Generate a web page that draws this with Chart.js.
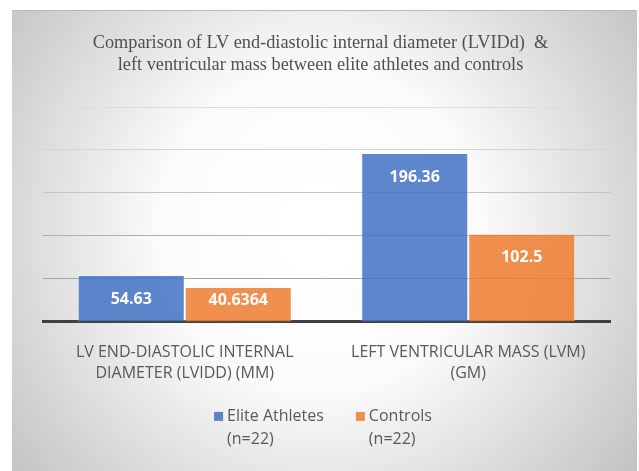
<!DOCTYPE html>
<html>
<head>
<meta charset="utf-8">
<script src="https://cdn.jsdelivr.net/npm/chart.js@4"></script>
<style>
  html, body { margin: 0; padding: 0; background: #ffffff; }
  #wrap { width: 639px; height: 471px; }
</style>
</head>
<body>
<div id="wrap"><canvas id="chart" width="639" height="471"></canvas></div>
<script>
const titleLines = ['Comparison of LV end-diastolic internal diameter (LVIDd)  &', 'left ventricular mass between elite athletes and controls'];
const categories = [
	['LV END-DIASTOLIC INTERNAL', 'DIAMETER (LVIDD) (MM)'],
	['LEFT VENTRICULAR MASS (LVM)', '(GM)']
];
const seriesNames = [['Elite Athletes', '(n=22)'], ['Controls', '(n=22)']];
const athletesValues = [54.63, 196.36];
const controlsValues = [40.6364, 102.5];
const yMax = 250;
const yStep = 50;

const BLUE = 'rgba(68, 114, 196, 0.86)';
const ORANGE = 'rgba(237, 125, 49, 0.86)';
const TEXT = '#595959';
const SANS = '"Open Sans", "Noto Sans", sans-serif';

//Chart frame with the radial shading behind everything
const frameBackground = {
	id: 'frameBackground',
	beforeDraw(chart) {
		const ctx = chart.ctx;
		ctx.save();
		const g = ctx.createRadialGradient(320, 230, 20, 320, 230, 420);
		g.addColorStop(0, '#ffffff');
		g.addColorStop(0.35, '#fbfbfb');
		g.addColorStop(1, '#bdbdbd');
		ctx.fillStyle = g;
		ctx.fillRect(12, 10, 625, 461);
		ctx.fillStyle = '#b9b9b9';
		ctx.fillRect(12, 10, 625, 1);
		ctx.restore();
	}
};

//Title centred on the frame rather than on the plot area
const frameTitle = {
	id: 'frameTitle',
	afterDraw(chart) {
		const ctx = chart.ctx;
		ctx.save();
		ctx.font = '18.3px "Liberation Serif", "Times New Roman", serif';
		ctx.fillStyle = '#505050';
		ctx.textAlign = 'center';
		ctx.textBaseline = 'middle';
		titleLines.forEach(function(t, i) {
			ctx.fillText(t, 320.5, 43 + i * 22);
		});
		ctx.restore();
	}
};

//Value labels inside the top of each bar
const barLabels = {
	id: 'barLabels',
	afterDatasetsDraw(chart) {
		const ctx = chart.ctx;
		ctx.save();
		ctx.font = 'bold 16px ' + SANS;
		ctx.fillStyle = '#ffffff';
		ctx.textAlign = 'center';
		ctx.textBaseline = 'middle';
		chart.data.datasets.forEach(function(ds, i) {
			chart.getDatasetMeta(i).data.forEach(function(bar, j) {
				const y = Math.min(bar.y + 24, bar.base - 21);
				ctx.fillText(String(ds.data[j]), bar.x, y);
			});
		});
		ctx.restore();
	}
};

//Two-line legend under the axis labels
const wrapLegend = {
	id: 'wrapLegend',
	afterDraw(chart) {
		const ctx = chart.ctx;
		const box = 9, gap = 4, spacing = 32, lineH = 23;
		ctx.save();
		ctx.font = '16px ' + SANS;
		const items = chart.data.datasets.map(function(ds) {
			const w = Math.max.apply(null, ds.label.map(t => ctx.measureText(t).width));
			return {ds: ds, w: box + gap + w};
		});
		const total = items.reduce((s, it) => s + it.w, 0) + spacing * (items.length - 1);
		let x = 323 - total / 2;
		const y0 = chart.chartArea.bottom + 95;
		ctx.textBaseline = 'middle';
		ctx.textAlign = 'left';
		items.forEach(function(it) {
			ctx.fillStyle = it.ds.backgroundColor;
			ctx.fillRect(x, y0 - 5, box, box);
			ctx.fillStyle = TEXT;
			it.ds.label.forEach(function(t, k) {
				ctx.fillText(t, x + box + gap, y0 + k * lineH);
			});
			x += it.w + spacing;
		});
		ctx.restore();
	}
};

const gridColors = {250: '#dcdcdc', 200: '#d4d4d4', 150: '#c4c4c4', 100: '#b0b0b0', 50: '#a4a4a4', 0: '#a4a4a4'};

new Chart(document.getElementById('chart'), {
	type: 'bar',
	data: {
		labels: categories,
		datasets: [
			{
				label: seriesNames[0],
				data: athletesValues,
				backgroundColor: BLUE,
				borderColor: 'rgba(255, 255, 255, 0.35)',
				borderWidth: 1
			},
			{
				label: seriesNames[1],
				data: controlsValues,
				backgroundColor: ORANGE,
				borderColor: 'rgba(255, 255, 255, 0.35)',
				borderWidth: 1
			}
		]
	},
	plugins: [frameBackground, barLabels, wrapLegend, frameTitle],
	options: {
		responsive: false,
		animation: false,
		layout: {
			padding: {left: 43, right: 29, top: 107, bottom: 75.5}
		},
		datasets: {
			bar: {
				categoryPercentage: 0.755,
				barPercentage: 1
			}
		},
		plugins: {
			legend: {display: false},
			tooltip: {enabled: false},
			title: {display: false}
		},
		scales: {
			x: {
				grid: {display: false},
				border: {display: true, color: '#404040', width: 3},
				ticks: {
					color: TEXT,
					font: {family: SANS, size: 16, lineHeight: 1.3},
					padding: 12,
					maxRotation: 0,
					autoSkip: false
				}
			},
			y: {
				min: 0,
				max: yMax,
				ticks: {display: false, stepSize: yStep},
				border: {display: false},
				grid: {
					drawTicks: false,
					lineWidth: 1,
					color: ctx => gridColors[ctx.tick ? ctx.tick.value : 0] || '#c0c0c0'
				}
			}
		}
	}
});
</script>
</body>
</html>
